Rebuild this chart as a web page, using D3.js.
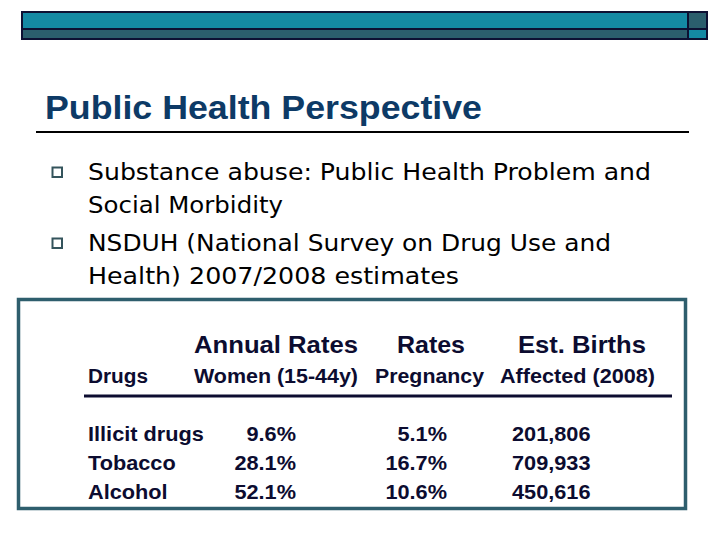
<!DOCTYPE html>
<html><head><meta charset="utf-8">
<script src="https://cdn.jsdelivr.net/npm/d3@7"></script>
<style>html,body{margin:0;padding:0;background:#fff;}svg{display:block;}</style>
</head><body>
<script>
// ---- data ----
const title = "Public Health Perspective";
const bullets = [
  ["Substance abuse: Public Health Problem and", "Social Morbidity"],
  ["NSDUH (National Survey on Drug Use and", "Health)  2007/2008 estimates"]
];
const headerTop = ["", "Annual Rates", "Rates", "Est. Births"];
const headerSub = ["Drugs", "Women (15-44y)", "Pregnancy", "Affected (2008)"];
const drugs = ["Illicit drugs", "Tobacco", "Alcohol"];
const womenRates = [9.6, 28.1, 52.1];
const pregnancyRates = [5.1, 16.7, 10.6];
const birthsAffected = [201806, 709933, 450616];

const W = 720, H = 540;
const svg = d3.select("body").append("svg").attr("width", W).attr("height", H);

// stretch helper: reference glyphs are slightly wider than local fonts
function fit(sel, w) { sel.attr("textLength", w).attr("lengthAdjust", "spacingAndGlyphs"); }

// ---- top decorative bar ----
const bar = svg.append("g");
bar.append("rect").attr("x",21).attr("y",11).attr("width",687).attr("height",29).attr("fill","#0d1033");
bar.append("rect").attr("x",23).attr("y",13).attr("width",664).attr("height",15).attr("fill","#1489a4");
bar.append("rect").attr("x",23).attr("y",30).attr("width",664).attr("height",8).attr("fill","#2b5e6d");
bar.append("rect").attr("x",689).attr("y",13).attr("width",17).attr("height",15).attr("fill","#2b5e6d");
bar.append("rect").attr("x",689).attr("y",30).attr("width",17).attr("height",8).attr("fill","#1489a4");

// ---- title ----
svg.append("text").attr("x",45).attr("y",119)
  .attr("font-family","Liberation Sans, Arial, sans-serif").attr("font-weight","bold")
  .attr("font-size",33).attr("fill","#0d3a66").text(title).call(fit, 437);
svg.append("line").attr("x1",36).attr("x2",689).attr("y1",132).attr("y2",132)
  .attr("stroke","#000").attr("stroke-width",2);

// ---- bullets ----
const bulletY = [180, 251];
const lineGap = 33;
const bulletW = [[563, 195], [523, 371]];
bullets.forEach((lines, i) => {
  svg.append("rect").attr("x",52.5).attr("y",bulletY[i]-12.5).attr("width",9.5).attr("height",9.5)
    .attr("fill","none").attr("stroke","#34545c").attr("stroke-width",2);
  lines.forEach((t, j) => {
    svg.append("text").attr("x",88).attr("y",bulletY[i] + j*lineGap)
      .attr("font-family","DejaVu Sans, sans-serif").attr("font-size",23)
      .attr("fill","#000").text(t).call(fit, bulletW[i][j]);
  });
});

// ---- table ----
svg.append("rect").attr("x",18.5).attr("y",299.5).attr("width",667).attr("height",209)
  .attr("fill","none").attr("stroke","#2e5e6d").attr("stroke-width",3.5);

const tf = "Liberation Sans, Arial, sans-serif";
const tc = "#0c0c30";
const topX = [0, 194, 397, 518], topW = [0, 164, 68, 128];
headerTop.forEach((t, i) => {
  if (!t) return;
  svg.append("text").attr("x",topX[i]).attr("y",353).attr("font-family",tf).attr("font-weight","bold")
    .attr("font-size",24).attr("fill",tc).text(t).call(fit, topW[i]);
});
const subX = [88, 194, 375, 500], subW = [60, 164, 109, 155];
headerSub.forEach((t, i) => {
  svg.append("text").attr("x",subX[i]).attr("y",383).attr("font-family",tf).attr("font-weight","bold")
    .attr("font-size",20).attr("fill",tc).text(t).call(fit, subW[i]);
});
svg.append("line").attr("x1",84).attr("x2",672).attr("y1",396).attr("y2",396)
  .attr("stroke",tc).attr("stroke-width",3);

const y = d3.scalePoint().domain(drugs).range([441, 499]);
const pct = d3.format(".1f");
const num = d3.format(",");
const sx = 1.06; // horizontal stretch for table body
const rows = svg.append("g").selectAll("g").data(drugs).join("g")
  .attr("transform", d => `translate(0,${y(d)})`)
  .attr("font-family", tf).attr("font-weight","bold").attr("font-size",20.5).attr("fill",tc);
function stretched(g, x, anchor, fn) {
  g.append("g").attr("transform", `translate(${x},0) scale(${sx},1)`)
    .append("text").attr("text-anchor", anchor).text(fn);
}
rows.each(function(d, i) {
  const g = d3.select(this);
  stretched(g, 88, "start", () => d);
  stretched(g, 296, "end", () => pct(womenRates[i]) + "%");
  stretched(g, 447, "end", () => pct(pregnancyRates[i]) + "%");
  stretched(g, 512, "start", () => num(birthsAffected[i]));
});
</script>
</body></html>
